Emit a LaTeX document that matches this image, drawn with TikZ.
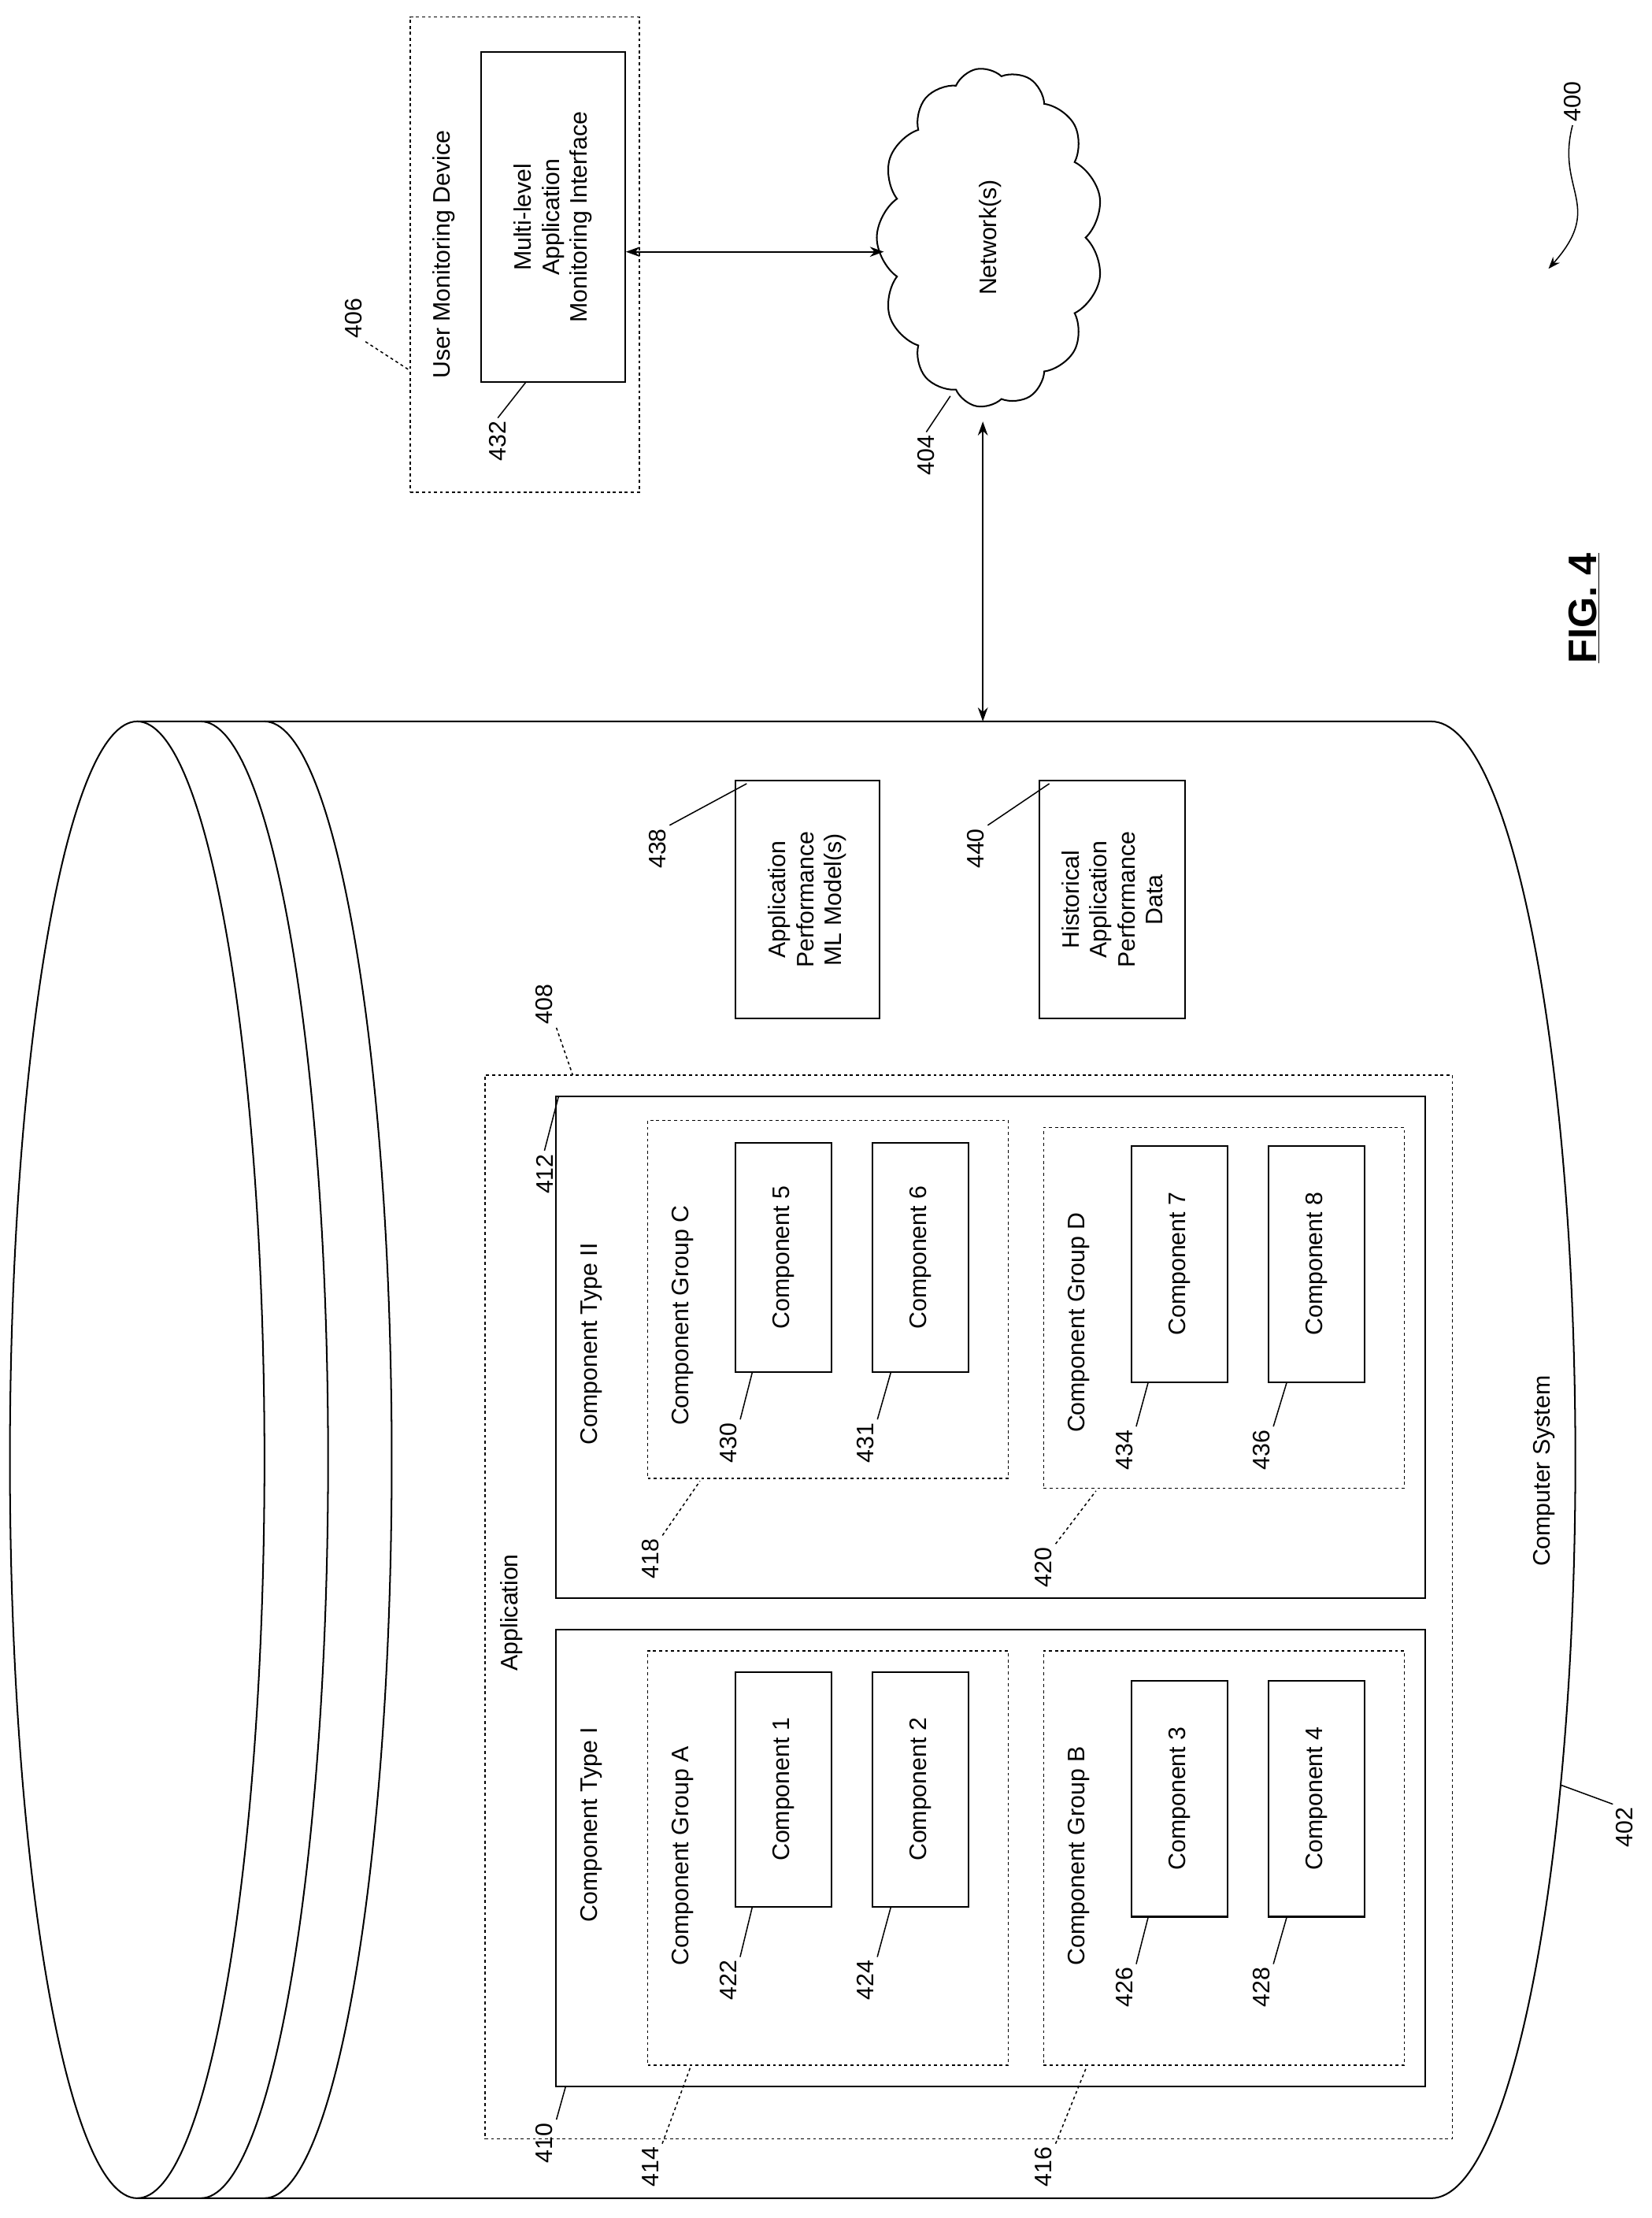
\documentclass[tikz,border=0pt]{standalone}
\usepackage{fontspec}
\setmainfont{Liberation Sans}
\usetikzlibrary{fit,shapes.symbols,arrows.meta}
\begin{document}
\begin{tikzpicture}[x=0.05cm,y=-0.05cm,
  every node/.style={font=\fontsize{24}{28}\selectfont},
  box/.style={draw,line width=1.6pt,inner sep=0pt},
  dbox/.style={draw,dashed,line width=1.2pt,inner sep=0pt},
  rt/.style={rotate=90,align=center},
  lead/.style={line width=1.2pt},
  dlead/.style={line width=1.2pt,dash pattern=on 3pt off 3pt},
  arr/.style={line width=1.6pt,{Stealth[length=14pt,width=10pt]}-{Stealth[length=14pt,width=10pt]}}]
\useasboundingbox (0,0) rectangle (1168,1568);
% cylinder
\draw[line width=1.6pt] (97,1032) ellipse [x radius=90,y radius=522];
\draw[line width=1.6pt] (142,510) arc[start angle=-90,end angle=90,x radius=90,y radius=522];
\draw[line width=1.6pt] (187,510) arc[start angle=-90,end angle=90,x radius=90,y radius=522];
\draw[line width=1.6pt] (97,510) -- (1012,510) arc[start angle=-90,end angle=90,x radius=102,y radius=522] -- (97,1554);
\coordinate (cyltop) at (695,510);
% app boxes
\node[dbox,fit={(343,760)(1027,1512)}] (app) {};
\node[box,fit={(393,1152)(1008,1475)}] (t1) {};
\node[box,fit={(393,775)(1008,1130)}] (t2) {};
\node[dbox,fit={(458,1167)(713,1460)}] (ga) {};
\node[dbox,fit={(738,1167)(993,1460)}] (gb) {};
\node[dbox,fit={(458,792)(713,1045)}] (gc) {};
\node[dbox,fit={(738,797)(993,1052)}] (gd) {};
\node[box,fit={(520,1182)(588,1348)}] (c1) {};
\node[box,fit={(617,1182)(685,1348)}] (c2) {};
\node[box,fit={(800,1188)(868,1355)}] (c3) {};
\node[box,fit={(897,1188)(965,1355)}] (c4) {};
\node[box,fit={(520,808)(588,970)}] (c5) {};
\node[box,fit={(617,808)(685,970)}] (c6) {};
\node[box,fit={(800,810)(868,977)}] (c7) {};
\node[box,fit={(897,810)(965,977)}] (c8) {};
\foreach \n/\t in {c1/1,c2/2,c3/3,c4/4,c5/5,c6/6,c7/7,c8/8}
  \node[rt] at (\n) {Component \t};
\node[rt] (tapp) at (362,1140) {Application};
\node[rt] (tt1) at (418,1290) {Component Type I};
\node[rt] (tt2) at (418,950) {Component Type II};
\node[rt] (tga) at (483,1312) {Component Group A};
\node[rt] (tgb) at (763,1312) {Component Group B};
\node[rt] (tgc) at (483,930) {Component Group C};
\node[rt] (tgd) at (763,935) {Component Group D};
\node[rt] (tcs) at (1092,1040) {Computer System};
% ML boxes
\node[box,fit={(520,552)(622,720)}] (ml) {};
\node[rt] at (ml) {Application\\Performance\\ML Model(s)};
\node[box,fit={(735,552)(838,720)}] (hist) {};
\node[rt] at (hist) {Historical\\Application\\Performance\\Data};
% user device
\node[dbox,fit={(290,12)(452,348)}] (umd) {};
\node[rt] (tumd) at (314,180) {User Monitoring Device};
\node[box,fit={(340,37)(442,270)}] (mlai) {};
\node[rt] at (mlai) {Multi-level\\Application\\Monitoring Interface};
% cloud
\node[cloud,draw,line width=1.6pt,cloud puffs=13,cloud puff arc=110,aspect=1.5,inner sep=0pt,minimum width=12cm,minimum height=8cm,rotate=90] (net) at (700,168) {};
\node[rt] at (net) {Network(s)};
\draw[arr] (mlai.east |- 0,178) -- (625,178);
\draw[arr] (695,298) -- (cyltop);
% FIG
\node[rotate=90,font=\fontsize{40}{44}\selectfont\bfseries] (fig) at (1120,430) {\underline{FIG. 4}};
% labels
\node[rt] (l400) at (1112,72) {400};
\coordinate (a400) at (1095,190);
\draw[lead,-{Stealth[length=12pt,width=9pt]}] (l400.west) .. controls (1100,135) and (1135,145) .. (a400);
\node[rt] (l406) at (250,225) {406};
\draw[dlead] (l406.south west) -- (290,262);
\node[rt] (l432) at (352,312) {432};
\draw[lead] (l432.east) -- (372,270);
\node[rt] (l404) at (655,322) {404};
\draw[lead] (l404.east) -- (672,280);
\node[rt] (l402) at (1149,1292) {402};
\draw[lead] (l402.north east) -- (1104,1262);
\node[rt] (l408) at (385,710) {408};
\draw[dlead] (l408.south west) -- (405,760);
\node[rt] (l410) at (385,1515) {410};
\draw[lead] (l410.south east) -- (400,1475);
\node[rt] (l412) at (385,830) {412};
\draw[lead] (l412.east) -- (395,775);
\node[rt] (l414) at (460,1532) {414};
\draw[dlead] (l414.south east) -- (488,1462);
\node[rt] (l416) at (738,1532) {416};
\draw[dlead] (l416.south east) -- (768,1462);
\node[rt] (l418) at (460,1102) {418};
\draw[dlead] (l418.south east) -- (495,1047);
\node[rt] (l420) at (738,1108) {420};
\draw[dlead] (l420.south east) -- (775,1054);
\foreach \l/\x/\y/\px/\py in {422/515/1400/532/1348, 424/612/1400/630/1348, 426/795/1405/812/1355, 428/892/1405/910/1355, 430/515/1020/532/970, 431/612/1020/630/970, 434/795/1025/812/977, 436/892/1025/910/977}
  {\node[rt] (l\l) at (\x,\y) {\l};
   \draw[lead] (l\l.south east) -- (\px,\py);}
\node[rt] (l438) at (465,600) {438};
\draw[lead] (l438.south east) -- (528,554);
\node[rt] (l440) at (690,600) {440};
\draw[lead] (l440.south east) -- (742,554);
\end{tikzpicture}
\end{document}
